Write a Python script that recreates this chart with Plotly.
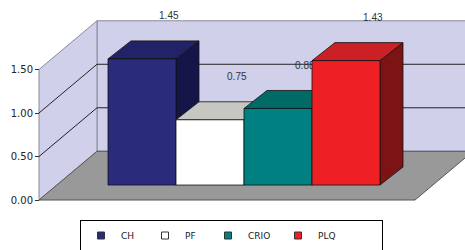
import plotly.graph_objects as go

# ---- data ----
categories = ["CH", "PF", "CRIO", "PLQ"]
values = [1.45, 0.75, 0.88, 1.43]
value_labels = ["1.45", "0.75", "0.88", "1.43"]
tick_values = [0.0, 0.5, 1.0, 1.5]
tick_labels = ["0.00", "0.50", "1.00", "1.50"]

# ---- styles ----
front_colors = ["#2B2B7B", "#FFFFFF", "#008080", "#EE2024"]
top_colors = ["#222266", "#C6C6C2", "#006A66", "#CB2026"]
side_colors = ["#15154A", "#A8A8A8", "#004D4D", "#7C1416"]
legend_colors = ["#2B2B7B", "#FFFFFF", "#008080", "#EE2024"]
legend_widths = [19, 18, 25, 59]
EDGE = "#111111"
WALL = "#D0D0EA"
FLOOR = "#999999"

# geometry of the oblique 3D frame (axis units)
PX_X = 68.0   # px per category unit
PX_Y = 87.0   # px per value unit
X_ORIGIN_PX = 124.6
DX, DY = 58 / PX_X, 0.56           # full depth shift
X_L = (39 - X_ORIGIN_PX) / PX_X    # left edge of floor/front
X_R = (415 - X_ORIGIN_PX) / PX_X   # right edge of floor/front
Y_MAX = 1.5
BAR_SHIFT = 0.256                  # x shift of bar fronts (depth 0.3)
BAR_BASE = 0.172                   # y shift of bar fronts
BDX, BDY = 0.338, 0.207            # bar depth
BAR_W = 1.0
LAB_DX, LAB_DY = 0.65, 0.66

W, H = 465, 250
ML, MR, MT, MB = 37, 0, 0, 48

fig = go.Figure()

def poly(xs, ys, color, lw=0.8, lc=EDGE):
    fig.add_trace(go.Scatter(x=xs + [xs[0]], y=ys + [ys[0]], mode="lines",
                             fill="toself", fillcolor=color,
                             line=dict(color=lc, width=lw),
                             hoverinfo="skip", showlegend=False))

shapes = []
def shape_poly(xs, ys, fill, line, lw=1):
    path = "M " + " L ".join(f"{x},{y}" for x, y in zip(xs, ys)) + " Z"
    shapes.append(dict(type="path", path=path, fillcolor=fill,
                       line=dict(color=line, width=lw), layer="below"))

# back wall
shape_poly([X_L + DX, X_R + DX, X_R + DX, X_L + DX],
           [DY, DY, Y_MAX + DY, Y_MAX + DY], WALL, "#8A8A9A")
# left wall
shape_poly([X_L, X_L + DX, X_L + DX, X_L],
           [0, DY, Y_MAX + DY, Y_MAX], WALL, "#8A8A9A")
# floor
shape_poly([X_L, X_R, X_R + DX, X_L + DX], [0, 0, DY, DY], FLOOR, "#555555")
# gridlines
for v in tick_values[1:-1]:
    shapes.append(dict(type="line", x0=X_L, y0=v, x1=X_L + DX, y1=v + DY,
                       line=dict(color="#222222", width=1), layer="below"))
    shapes.append(dict(type="line", x0=X_L + DX, y0=v + DY, x1=X_R + DX, y1=v + DY,
                       line=dict(color="#222222", width=1), layer="below"))

# bars, painter's order left to right
for i, (cat, v) in enumerate(zip(categories, values)):
    xl = i + BAR_SHIFT - BAR_W / 2
    xr = i + BAR_SHIFT + BAR_W / 2
    b = BAR_BASE
    t = b + v
    poly([xr, xr + BDX, xr + BDX, xr], [b, b + BDY, t + BDY, t], side_colors[i])
    poly([xl, xr, xr + BDX, xl + BDX], [t, t, t + BDY, t + BDY], top_colors[i])
    poly([xl, xr, xr, xl], [b, b, t, t], front_colors[i])
    fig.add_trace(go.Scatter(x=[i + LAB_DX], y=[v + LAB_DY], mode="text",
                             text=[value_labels[i]],
                             textfont=dict(family="Liberation Sans", size=10, color="#333333"),
                             hoverinfo="skip", showlegend=False))

# legend entries
for cat, col, lw in zip(categories, legend_colors, legend_widths):
    fig.add_trace(go.Scatter(x=[None], y=[None], mode="markers", name=cat,
                             legendwidth=lw,
                             marker=dict(symbol="square", size=7, color=col,
                                         line=dict(color="#333333", width=1))))

plot_w = W - ML - MR
plot_h = H - MT - MB
x_range = [(ML - X_ORIGIN_PX) / PX_X, (W - MR - X_ORIGIN_PX) / PX_X]
y_range = [-(H - MB - 200) / PX_Y, 200 / PX_Y]

fig.update_layout(
    width=W, height=H,
    margin=dict(l=ML, r=MR, t=MT, b=MB, autoexpand=False),
    paper_bgcolor="white", plot_bgcolor="white",
    shapes=shapes,
    xaxis=dict(range=x_range, visible=False, fixedrange=True, automargin=False),
    yaxis=dict(range=y_range, tickvals=tick_values, ticktext=tick_labels,
               showgrid=False, zeroline=False, showline=False,
               ticks="outside", ticklen=4, tickcolor="#333333",
               tickfont=dict(family="DejaVu Sans", size=10, color="#222222"),
               anchor="free", position=(39 - ML) / plot_w, automargin=False,
               fixedrange=True),
    showlegend=True,
    legend=dict(orientation="h", x=(80 - ML) / plot_w, xanchor="left",
                y=-(218 - 200) / plot_h, yanchor="top",
                bordercolor="#000000", borderwidth=1, bgcolor="white",
                font=dict(family="DejaVu Sans", size=9, color="#222222"),
                itemwidth=30, tracegroupgap=0),
)

fig.write_html("out.html",
               config={"displayModeBar": False},
               post_script="document.body.style.margin='0';"
                           "document.body.style.overflow='hidden';")
